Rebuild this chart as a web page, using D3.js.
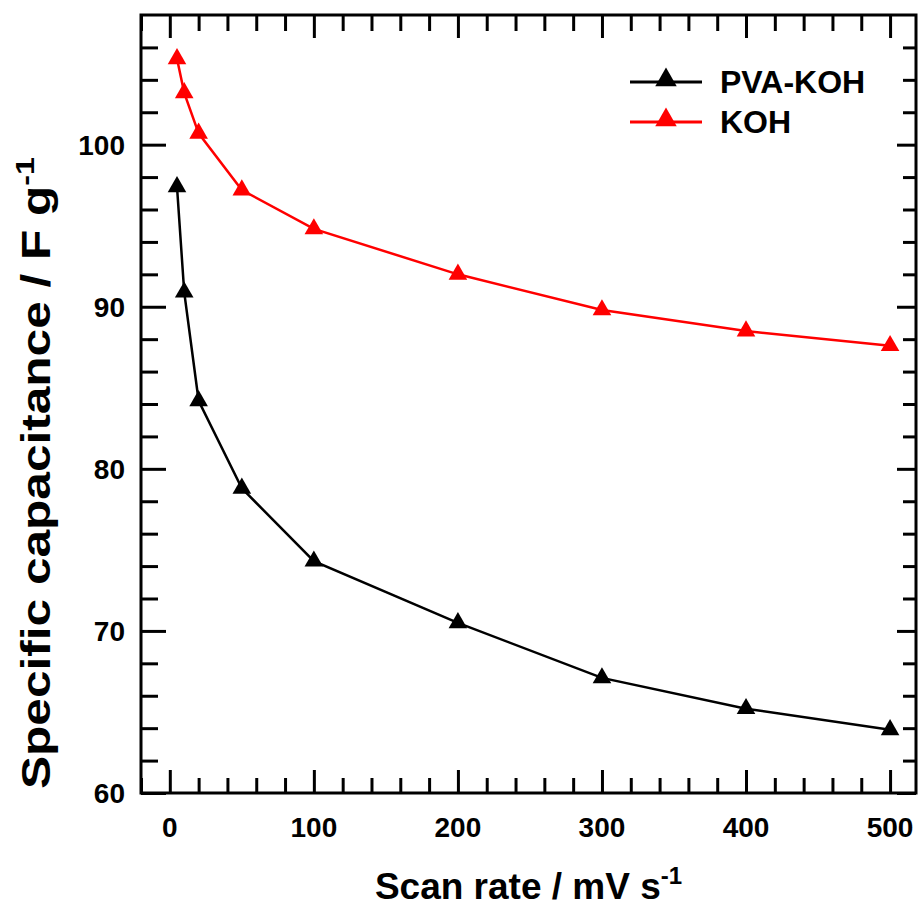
<!DOCTYPE html>
<html lang="en">
<head>
<meta charset="UTF-8" />
<title>Specific capacitance</title>
<style>
  body { margin: 0; background: #fff; }
  text { font-family: Arial, "Liberation Sans", sans-serif; font-weight: bold; fill: #000; }
</style>
</head>
<body>
<svg width="921" height="909" id="svg"></svg>
<script src="https://cdn.jsdelivr.net/npm/d3@7"></script>
<script>
const scanRates = [5, 10, 20, 50, 100, 200, 300, 400, 500]
const pvaKoh = [97.4, 90.9, 84.2, 78.8, 74.3, 70.5, 67.1, 65.2, 63.9]
const koh = [105.3, 103.2, 100.7, 97.2, 94.8, 92.0, 89.8, 88.5, 87.6]
const seriesNames = ["PVA-KOH", "KOH"]
const seriesColors = ["#000000", "#ff0000"]
const xTicks = [0, 100, 200, 300, 400, 500]
const yTicks = [60, 70, 80, 90, 100]

const svg = d3.select("#svg")
const margin = { top: 15, left: 141, right: 5, bottom: 116 }
const width = +svg.attr("width")
const height = +svg.attr("height")
const innerW = width - margin.left - margin.right
const innerH = height - margin.top - margin.bottom

const x = d3.scaleLinear().domain([-20, 518]).range([0, innerW])
const y = d3.scaleLinear().domain([60, 108]).range([innerH, 0])

const g = svg.append("g").attr("transform", `translate(${margin.left},${margin.top})`)

// ticks, inward on all four sides
const xMinor = d3.range(-20, 518, 20).filter(v => v % 100 !== 0)
const yMinor = d3.range(62, 108, 2).filter(v => v % 10 !== 0)

function tickSet(axis, len) {
  return axis.tickSize(-len).tickFormat("").tickSizeOuter(0)
}

const axes = [
  [d3.axisBottom(x).tickValues(xTicks), 23, `translate(0,${innerH})`],
  [d3.axisBottom(x).tickValues(xMinor), 15, `translate(0,${innerH})`],
  [d3.axisTop(x).tickValues(xTicks), 23, "translate(0,0)"],
  [d3.axisTop(x).tickValues(xMinor), 16, "translate(0,0)"],
  [d3.axisLeft(y).tickValues(yTicks), 25, "translate(0,0)"],
  [d3.axisLeft(y).tickValues(yMinor), 17, "translate(0,0)"],
  [d3.axisRight(y).tickValues(yTicks), 19, `translate(${innerW},0)`],
  [d3.axisRight(y).tickValues(yMinor), 13, `translate(${innerW},0)`]
]
axes.forEach(([ax, len, tr]) => {
  const a = g.append("g").attr("transform", tr).call(tickSet(ax, len))
  a.select(".domain").remove()
  a.selectAll("line").attr("stroke", "#000").attr("stroke-width", 3)
})

// frame
g.append("rect")
  .attr("width", innerW).attr("height", innerH)
  .attr("fill", "none").attr("stroke", "#000").attr("stroke-width", 3)

// tick labels
g.selectAll(".xl").data(xTicks).join("text")
  .attr("x", d => x(d)).attr("y", innerH + 44)
  .attr("text-anchor", "middle").attr("font-size", 28)
  .text(d => d)
g.selectAll(".yl").data(yTicks).join("text")
  .attr("x", -16).attr("y", d => y(d) + 10)
  .attr("text-anchor", "end").attr("font-size", 28)
  .text(d => d)

// axis titles
const xt = svg.append("text")
  .attr("x", margin.left + innerW / 2).attr("y", 899)
  .attr("text-anchor", "middle").attr("font-size", 37)
xt.append("tspan").text("Scan rate / mV s")
xt.append("tspan").attr("font-size", 24).attr("dy", -15).text("-1")

const yt = svg.append("text")
  .attr("transform", "translate(50,473) rotate(-90)")
  .attr("text-anchor", "middle").attr("font-size", 40)
  .attr("textLength", 632).attr("lengthAdjust", "spacingAndGlyphs")
yt.append("tspan").text("Specific capacitance / F g")
yt.append("tspan").attr("font-size", 26).attr("dy", -16).text("-1")

// series
const series = [pvaKoh, koh]
const line = d3.line().x(d => x(d[0])).y(d => y(d[1]))
const tri = d3.symbol().type(d3.symbolTriangle).size(150)

series.forEach((vals, i) => {
  const pts = scanRates.map((s, j) => [s, vals[j]])
  g.append("path").datum(pts)
    .attr("d", line).attr("fill", "none")
    .attr("stroke", seriesColors[i]).attr("stroke-width", 2.5)
  g.selectAll(null).data(pts).join("path")
    .attr("d", tri)
    .attr("transform", d => `translate(${x(d[0])},${y(d[1])})`)
    .attr("fill", seriesColors[i])
})

// legend
const legendTri = d3.symbol().type(d3.symbolTriangle).size(200)
const legend = svg.append("g")
seriesNames.forEach((name, i) => {
  const ly = 82 + i * 40
  legend.append("line")
    .attr("x1", 630).attr("x2", 702).attr("y1", ly).attr("y2", ly)
    .attr("stroke", seriesColors[i]).attr("stroke-width", 3)
  legend.append("path").attr("d", legendTri)
    .attr("transform", `translate(666,${ly - 2})`)
    .attr("fill", seriesColors[i])
  legend.append("text")
    .attr("x", 720).attr("y", ly + 11)
    .attr("font-size", 32)
    .text(name)
})
</script>
</body>
</html>
